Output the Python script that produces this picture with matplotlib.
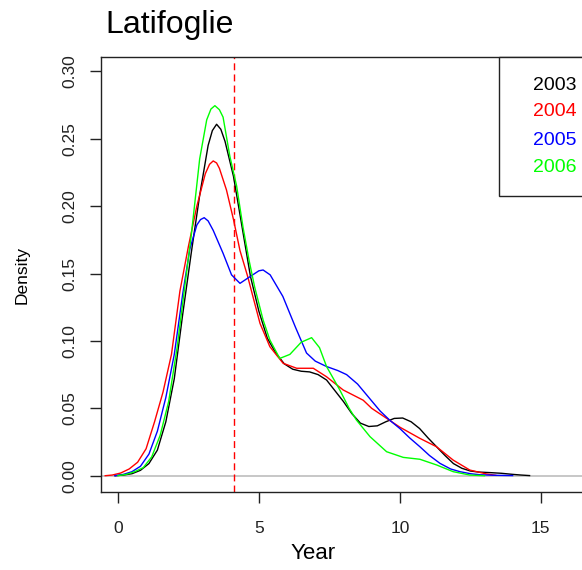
# Density curves of tree age for broadleaf stands, one curve per year.
import matplotlib.pyplot as plt
from matplotlib.patches import Rectangle

# Points (x = year, y = density).
years = ['2003', '2004', '2005', '2006']
colors = ['black', '#FF0000', '#0000FF', '#00FF00']

x_2003 = [-0.1, 0.2, 0.5, 0.8, 1.1, 1.4, 1.7, 2.0, 2.3, 2.6, 2.9, 3.2, 3.35, 3.5,
          3.65, 3.8, 4.1, 4.4, 4.7, 5.0, 5.3, 5.6, 5.9, 6.2, 6.5, 6.8, 7.1,
          7.4, 7.7, 8.0, 8.3, 8.6, 8.9, 9.2, 9.5, 9.8, 10.1, 10.4, 10.7, 11.0,
          11.3, 11.6, 11.9, 12.2, 12.5, 12.8, 13.2, 13.6, 14.0, 14.3, 14.6]
y_2003 = [0.0, 0.0005, 0.0015, 0.004, 0.009, 0.019, 0.040, 0.072, 0.120, 0.165,
          0.208, 0.245, 0.256, 0.2607, 0.257, 0.248, 0.222, 0.185, 0.148,
          0.122, 0.102, 0.091, 0.083, 0.079, 0.0775, 0.077, 0.075, 0.071,
          0.063, 0.055, 0.046, 0.039, 0.0365, 0.037, 0.040, 0.0425, 0.0428,
          0.040, 0.035, 0.028, 0.0215, 0.015, 0.009, 0.0055, 0.0035, 0.0027,
          0.0023, 0.0018, 0.001, 0.0005, 0.0001]

x_2004 = [-0.45, -0.2, 0.1, 0.4, 0.7, 1.0, 1.3, 1.6, 1.9, 2.2, 2.5, 2.8, 3.1,
          3.25, 3.38, 3.5, 3.6, 3.85, 4.1, 4.33, 4.6, 4.8, 5.04, 5.39, 5.86,
          6.34, 6.93, 7.4, 7.99, 8.7, 9.0, 9.5, 10.0, 10.71, 11.3, 11.89,
          12.48, 13.07, 13.4]
y_2004 = [0.0, 0.0005, 0.002, 0.005, 0.010, 0.020, 0.040, 0.062, 0.090, 0.137,
          0.170, 0.200, 0.224, 0.231, 0.2335, 0.232, 0.228, 0.212, 0.190,
          0.167, 0.148, 0.132, 0.113, 0.0957, 0.0834, 0.0797, 0.0797, 0.0734,
          0.0636, 0.056, 0.050, 0.043, 0.036, 0.0277, 0.0215, 0.0116, 0.0042,
          0.0013, 0.0003]

x_2005 = [-0.1, 0.2, 0.5, 0.8, 1.1, 1.4, 1.7, 2.0, 2.3, 2.55, 2.8, 2.93, 3.06,
          3.2, 3.38, 3.73, 4.03, 4.33, 4.68, 5.0, 5.15, 5.4, 5.85, 6.3, 6.69,
          7.0, 7.4, 7.8, 8.11, 8.5, 8.94, 9.3, 9.65, 10.0, 10.35, 10.71,
          11.05, 11.42, 11.8, 12.13, 12.5, 12.84, 13.4, 14.0]
y_2005 = [0.0, 0.001, 0.003, 0.007, 0.016, 0.033, 0.058, 0.090, 0.135, 0.168,
          0.186, 0.190, 0.1914, 0.189, 0.182, 0.165, 0.149, 0.1427, 0.1476,
          0.152, 0.1526, 0.149, 0.133, 0.110, 0.091, 0.085, 0.081, 0.078,
          0.075, 0.068, 0.057, 0.048, 0.041, 0.035, 0.028, 0.0215, 0.015,
          0.0092, 0.005, 0.003, 0.0015, 0.0007, 0.0003, 0.0001]

x_2006 = [0.0, 0.3, 0.6, 0.9, 1.2, 1.5, 1.8, 2.1, 2.4, 2.6, 2.9, 3.15, 3.3,
          3.44, 3.6, 3.73, 3.97, 4.21, 4.44, 4.65, 4.85, 5.15, 5.39, 5.74,
          6.1, 6.5, 6.87, 7.15, 7.4, 7.87, 8.2, 8.46, 8.94, 9.53, 10.12, 10.71,
          11.3, 11.89, 12.48, 13.0]
y_2006 = [0.0, 0.001, 0.003, 0.006, 0.014, 0.030, 0.055, 0.095, 0.145, 0.178,
          0.235, 0.264, 0.272, 0.2745, 0.2715, 0.266, 0.237, 0.215, 0.184,
          0.160, 0.140, 0.1155, 0.1007, 0.087, 0.090, 0.099, 0.1024, 0.095,
          0.081, 0.0636, 0.050, 0.0413, 0.029, 0.0178, 0.0136, 0.0122, 0.008,
          0.003, 0.0005, 0.0]

mean_year = 4.12

x_ticks = [0, 5, 10, 15]
y_ticks = [0.00, 0.05, 0.10, 0.15, 0.20, 0.25, 0.30]
y_tick_labels = ['0.00', '0.05', '0.10', '0.15', '0.20', '0.25', '0.30']


def main():
    plt.rcParams['font.family'] = ['Liberation Sans', 'DejaVu Sans']
    fig = plt.figure(figsize=(5.82, 5.70), dpi=100)
    # the plot box runs past the right edge of the picture, as in the original
    ax = fig.add_axes([0.1735, 0.1368, 0.843, 0.7632])

    ax.axhline(0, color='#BEBEBE', lw=1.2, zorder=1)
    ax.axvline(mean_year, color='#FF0000', lw=1.0, linestyle=(0, (5, 3)), zorder=2)

    series_x = [x_2003, x_2004, x_2005, x_2006]
    series_y = [y_2003, y_2004, y_2005, y_2006]
    for xs, ys, c in zip(series_x, series_y, colors):
        ax.plot(xs, ys, color=c, lw=1.0, zorder=3)

    ax.set_xlim(-0.6, 16.8)
    ax.set_ylim(-0.0121, 0.3106)
    ax.set_xticks(x_ticks)
    ax.set_yticks(y_ticks)
    ax.set_yticklabels(y_tick_labels, rotation=90, va='center')
    ax.tick_params(labelsize=12.5, length=8, width=1.0, pad=9, colors='#222222')
    ax.tick_params(axis='x', pad=13)
    for side in ax.spines.values():
        side.set_linewidth(1.0)
        side.set_color('#222222')

    ax.set_xlabel('Year', fontsize=16)
    ax.set_ylabel('Density', fontsize=12.5)
    ax.xaxis.set_label_coords(0.432, -0.118)
    ax.yaxis.set_label_coords(-0.145, 0.5)

    fig.text(105 / 582, 1 - 33 / 570, 'Latifoglie', fontsize=23,
             ha='left', va='baseline')

    # legend box with coloured year labels, no line symbols
    ax.add_patch(Rectangle((0.811, 0.680), 0.3, 0.32, transform=ax.transAxes,
                           facecolor='white', edgecolor='#222222', lw=1.0,
                           clip_on=False, zorder=5))
    label_y = [0.9356, 0.8736, 0.809, 0.745]
    for name, c, yy in zip(years, colors, label_y):
        ax.text(0.880, yy, name, color=c, fontsize=14, transform=ax.transAxes,
                ha='left', va='center', zorder=6)

    fig.savefig('out.png', dpi=100)


if __name__ == '__main__':
    main()
